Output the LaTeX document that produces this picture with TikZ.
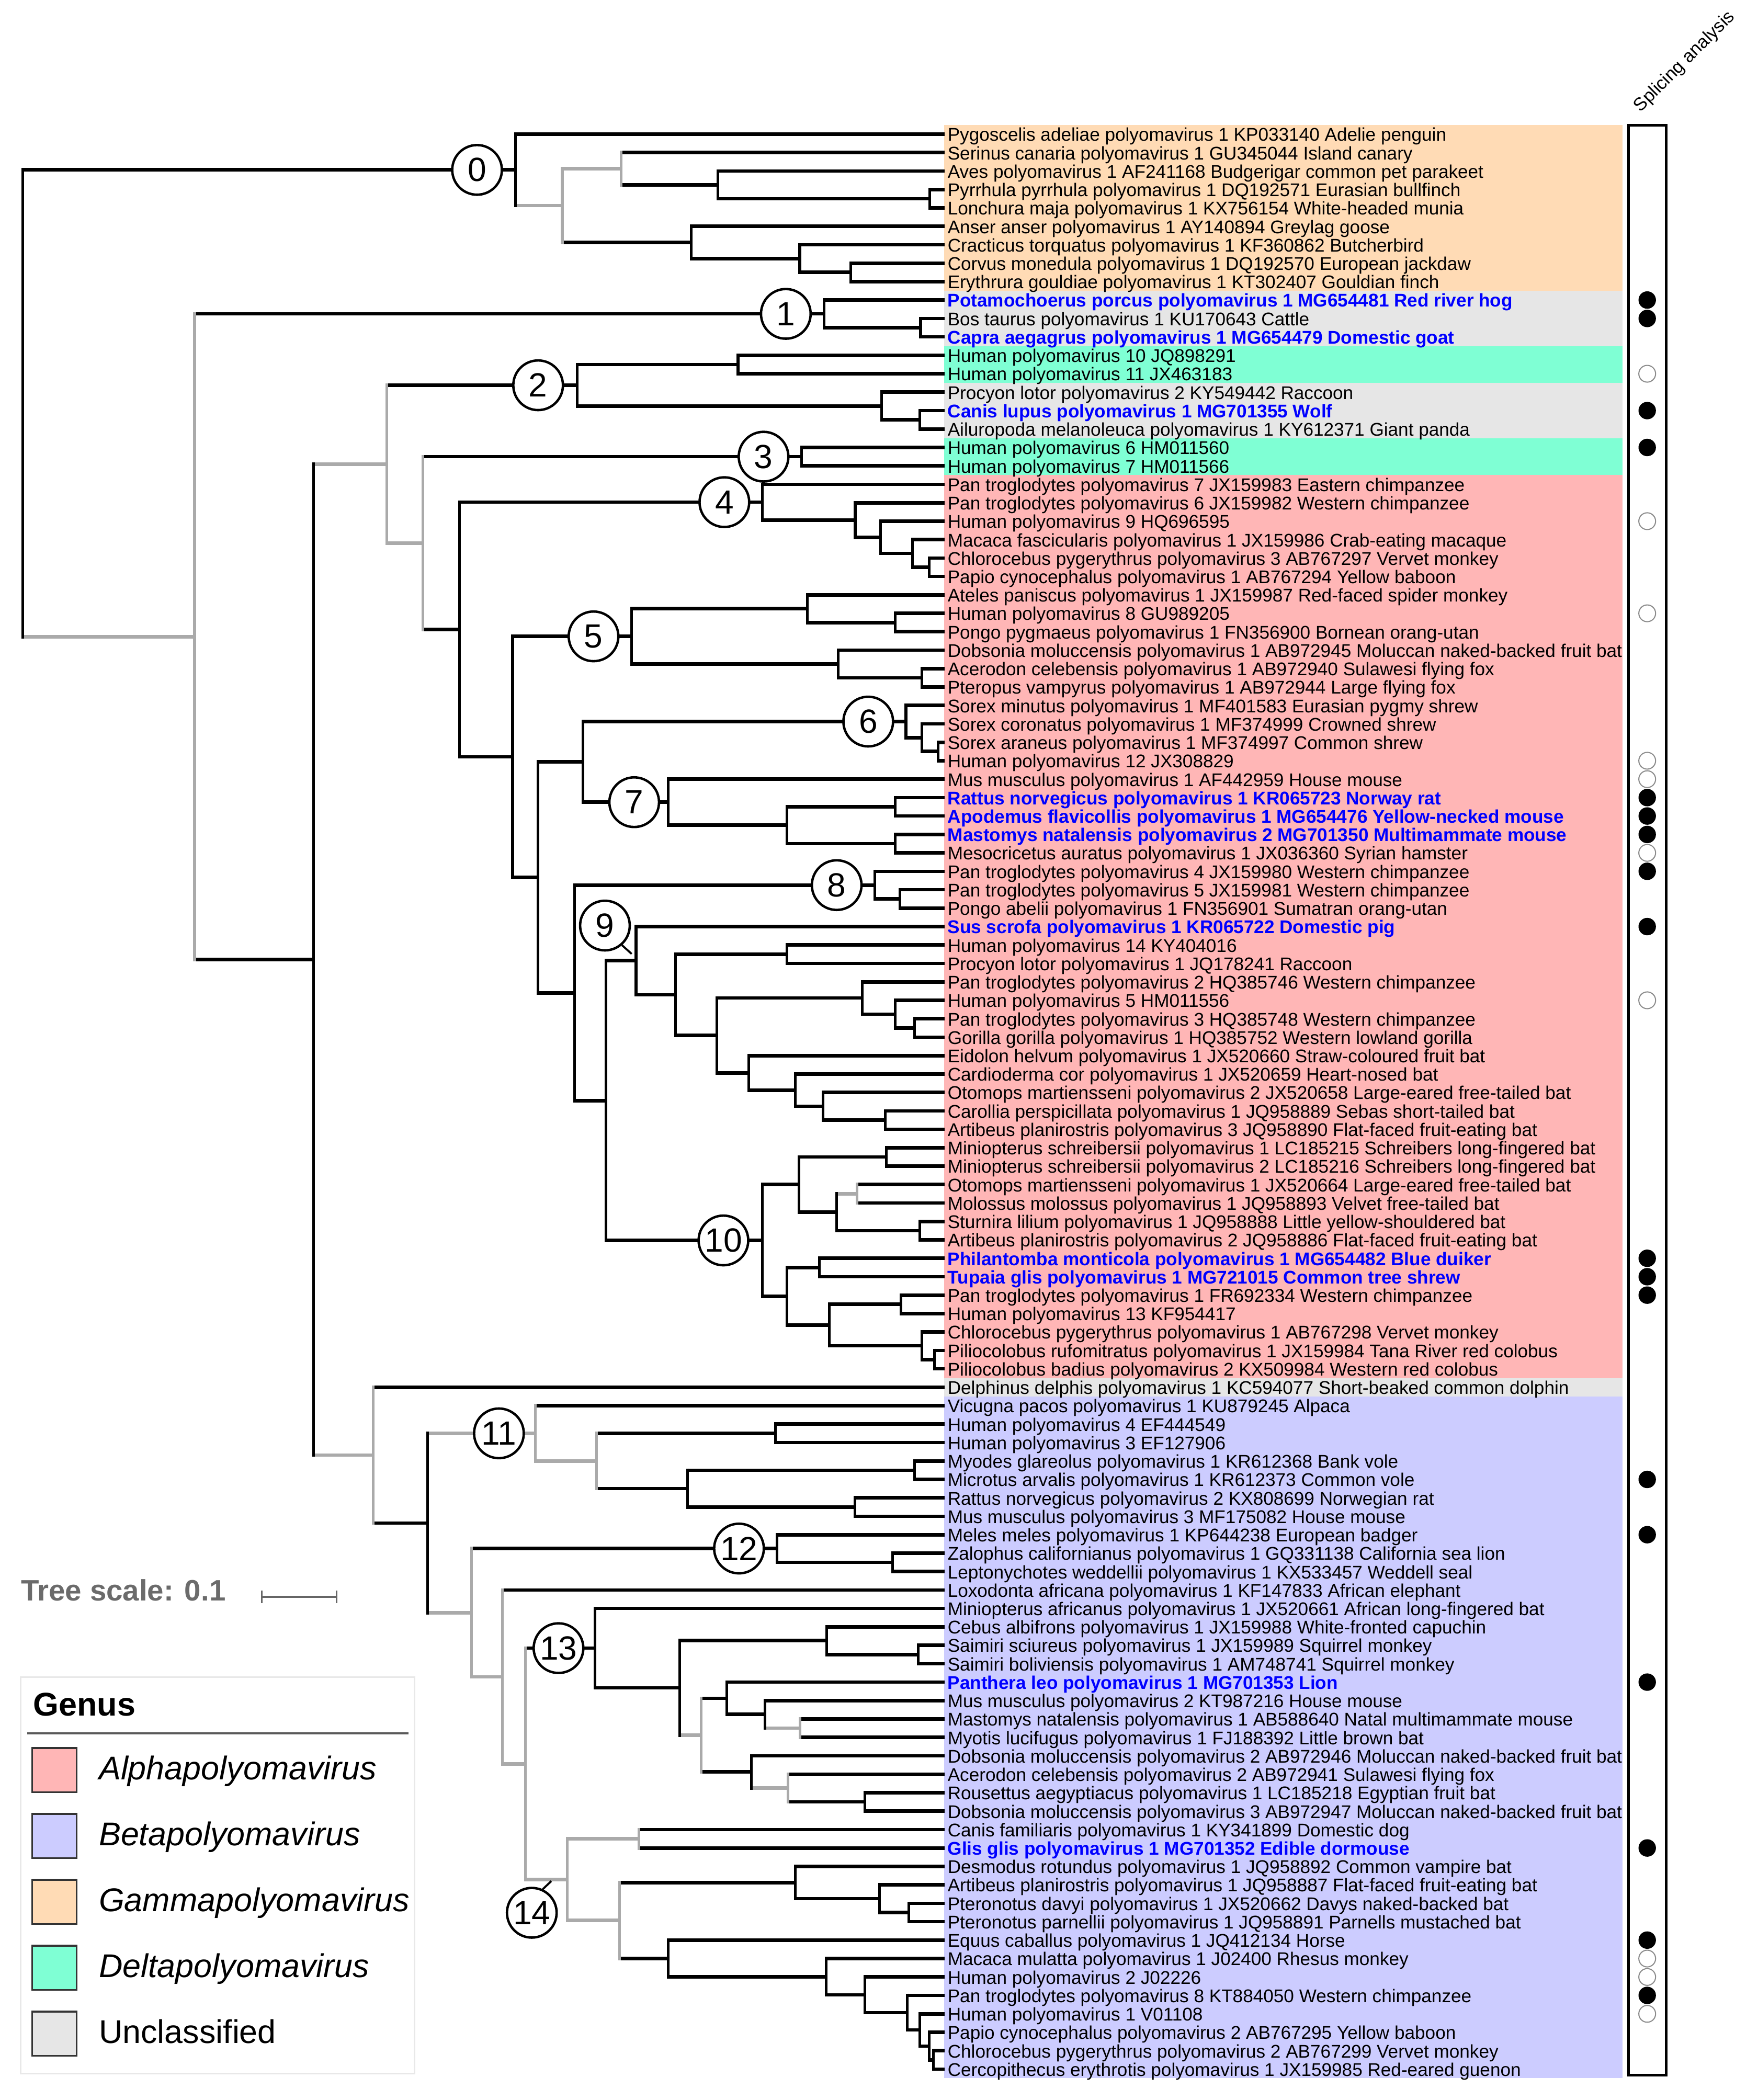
\documentclass[tikz,border=0pt]{standalone}
\usepackage{fontspec}
\setmainfont{Liberation Sans}
\usetikzlibrary{calc}
\definecolor{alphac}{RGB}{255,182,182}
\definecolor{betac}{RGB}{204,204,255}
\definecolor{gammac}{RGB}{255,219,181}
\definecolor{deltac}{RGB}{127,255,212}
\definecolor{unclc}{RGB}{230,230,230}
\definecolor{brgray}{RGB}{170,170,170}
\definecolor{blueL}{RGB}{0,0,255}
\newcommand\tn[4]{\path let \p1=(#3), \p2=(#4) in coordinate (#1) at (#2pt,{0.5*(\y1+\y2)});}
\newcommand\brB[2]{\draw[hbk] (#1 |- #2) -- (#2);}
\newcommand\brG[2]{\draw[hgr] (#1 |- #2) -- (#2);}
\newcommand\vtB[3]{\draw[vbk] (#1 |- #2) -- (#1 |- #3);}
\newcommand\vtG[3]{\draw[vgr] (#1 |- #2) -- (#1 |- #3);}
\newcommand\nBB[3]{\brB{#1}{#2}\brB{#1}{#3}\vtB{#1}{#2}{#3}}
\begin{document}
\begin{tikzpicture}[x=1pt,y=-1pt,
  hbk/.style={line width=2.6pt,black},
  hgr/.style={line width=2.6pt,brgray},
  vbk/.style={line width=2pt,black,shorten <=-1.3pt,shorten >=-1.3pt},
  vgr/.style={line width=2pt,brgray,shorten <=-1.3pt,shorten >=-1.3pt},
  lab/.style={anchor=base west,inner sep=0pt,xshift=2pt,yshift=-5.2pt,font=\fontsize{13.7}{14}\selectfont},
  labb/.style={lab,text=blueL,font=\bfseries\fontsize{13.7}{14}\selectfont},
  circ/.style={circle,draw,line width=1.8pt,fill=white,minimum size=37pt,inner sep=0pt,font=\fontsize{25}{25}\selectfont},
  mkf/.style={circle,fill=black,minimum size=13pt,inner sep=0pt},
  mko/.style={circle,draw=black!45,line width=0.8pt,fill=white,minimum size=12.5pt,inner sep=0pt},
  sq/.style={draw=black!80,line width=1.3pt,minimum size=33pt,inner sep=0pt},
  lgt/.style={anchor=base west,inner sep=0pt,font=\fontsize{24.5}{25}\selectfont}]
\useasboundingbox (0,0) rectangle (1310,1565);
\fill[white] (0,0) rectangle (1310,1565);
% colour bands
\fill[gammac] (703.5,93.13) rectangle (1209,216.73);
\fill[unclc] (703.5,216.73) rectangle (1209,257.93);
\fill[deltac] (703.5,257.93) rectangle (1209,285.4);
\fill[unclc] (703.5,285.4) rectangle (1209,326.6);
\fill[deltac] (703.5,326.6) rectangle (1209,354.06);
\fill[alphac] (703.5,354.06) rectangle (1209,1026.98);
\fill[unclc] (703.5,1026.98) rectangle (1209,1040.71);
\fill[betac] (703.5,1040.71) rectangle (1209,1548.8);
% leaf tips
\foreach \i in {1,...,106} {\coordinate (L\i) at (704,{100+(\i-1)*13.733});}
% internal nodes
\tn{nD}{693}{L4}{L5}
\tn{nC}{535}{L3}{nD}
\tn{nB}{463}{L2}{nC}
\tn{nG}{634}{L8}{L9}
\tn{nF}{596}{L7}{nG}
\tn{nE}{515}{L6}{nF}
\tn{nA}{419}{nB}{nE}
\tn{nN0}{384}{L1}{nA}
\tn{nH2}{686}{L11}{L12}
\tn{nH}{614}{L10}{nH2}
\tn{nI1}{550}{L13}{L14}
\tn{nI3}{685.3}{L16}{L17}
\tn{nI2}{657}{L15}{nI3}
\tn{nI}{430}{nI1}{nI2}
\tn{nJ3}{597.4}{L18}{L19}
\tn{nP}{692.5}{L24}{L25}
\tn{nO}{680}{L23}{nP}
\tn{nN}{656.3}{L22}{nO}
\tn{nM}{637.3}{L21}{nN}
\tn{nL}{568.2}{L20}{nM}
\tn{nT}{667.2}{L27}{L28}
\tn{nS}{601.7}{L26}{nT}
\tn{nV}{687}{L30}{L31}
\tn{nU}{624.7}{L29}{nV}
\tn{nR}{470.8}{nS}{nU}
\tn{n6c}{699}{L34}{L35}
\tn{n6b}{687}{L33}{n6c}
\tn{nY}{675.1}{L32}{n6b}
\tn{nAA1}{667.2}{L37}{L38}
\tn{nAA2}{667.2}{L39}{L40}
\tn{nAA}{586.4}{nAA1}{nAA2}
\tn{nZ}{498}{L36}{nAA}
\tn{nX}{434.4}{nY}{nZ}
\tn{nAC2}{670.7}{L42}{L43}
\tn{nAC}{651.9}{L41}{nAC2}
\tn{nAF1}{586.4}{L45}{L46}
\tn{nAH3}{681.6}{L49}{L50}
\tn{nAH2}{667.2}{L48}{nAH3}
\tn{nAH}{642.6}{L47}{nAH2}
\tn{nAL}{659.8}{L54}{L55}
\tn{nAK}{613.3}{L53}{nAL}
\tn{nAJ}{592.6}{L52}{nAK}
\tn{nAI}{558}{L51}{nAJ}
\tn{nAG}{534.3}{nAH}{nAI}
\tn{nAF}{503.5}{nAF1}{nAG}
\tn{nAE}{474}{L44}{nAF}
\tn{nAN1}{660.6}{L56}{L57}
\tn{nAP}{638.8}{L58}{L59}
\tn{nAO2}{685.3}{L60}{L61}
\tn{nAO}{623.5}{nAP}{nAO2}
\tn{nAN}{595.5}{nAN1}{nAO}
\tn{nAQ1}{610.7}{L62}{L63}
\tn{nAR1}{671.5}{L64}{L65}
\tn{nAS2}{696.2}{L67}{L68}
\tn{nAS}{687}{L66}{nAS2}
\tn{nAR}{618}{nAR1}{nAS}
\tn{nAQ}{586.4}{nAQ1}{nAR}
\tn{nAM}{568.2}{nAN}{nAQ}
\tn{nAD}{451.5}{nAE}{nAM}
\tn{nAB}{428.3}{nAC}{nAD}
\tn{nW}{401}{nX}{nAB}
\tn{nQ}{382}{nR}{nW}
\tn{nK}{342.4}{nL}{nQ}
\tn{nJ}{315}{nJ3}{nK}
\tn{nNA}{288.3}{nI}{nJ}
\tn{nBE1}{578}{L71}{L72}
\tn{nBF1}{681.6}{L73}{L74}
\tn{nBF2}{637.2}{L75}{L76}
\tn{nBF}{512.5}{nBF1}{nBF2}
\tn{nBE}{444.7}{nBE1}{nBF}
\tn{nBD}{398.8}{L70}{nBE}
\tn{nBH2}{665.2}{L78}{L79}
\tn{nBH}{579.1}{L77}{nBH2}
\tn{nBM2}{684.2}{L83}{L84}
\tn{nBM}{616.1}{L82}{nBM2}
\tn{nBQ}{596.3}{L87}{L88}
\tn{nBP}{570}{L86}{nBQ}
\tn{nBO}{541.7}{L85}{nBP}
\tn{nBS2}{644.6}{L91}{L92}
\tn{nBS}{587.1}{L90}{nBS2}
\tn{nBR}{559.9}{L89}{nBS}
\tn{nBN}{522.4}{nBO}{nBR}
\tn{nBL}{506.4}{nBM}{nBN}
\tn{nBK}{443.5}{L81}{nBL}
\tn{nBU}{476.2}{L93}{L94}
\tn{nBX2}{677.3}{L97}{L98}
\tn{nBX}{655.5}{L96}{nBX2}
\tn{nBW}{592.6}{L95}{nBX}
\tn{nCE}{695.5}{L105}{L106}
\tn{nCD}{692.6}{L104}{nCE}
\tn{nCC}{685.3}{L103}{nCD}
\tn{nCB}{676.1}{L102}{nCC}
\tn{nCA}{644.6}{L101}{nCB}
\tn{nBZ}{615.5}{L100}{nCA}
\tn{nBY}{498}{L99}{nBZ}
\tn{nBV}{461.7}{nBW}{nBY}
\tn{nBT}{422.8}{nBU}{nBV}
\tn{nBJ}{391.5}{nBK}{nBT}
\tn{nBI}{374.4}{L80}{nBJ}
\tn{nBG}{351.5}{nBH}{nBI}
\tn{nBC}{318.8}{nBD}{nBG}
\tn{nBB}{278.1}{L69}{nBC}
\tn{nBA}{233.7}{nNA}{nBB}
\tn{nR2}{145}{nH}{nBA}
\tn{nRoot}{16.8}{nN0}{nR2}
% ---- branches: Gammapolyomavirus
\brB{nRoot}{nN0}
\brB{nN0}{L1}
\brG{nN0}{nA}
\vtB{nN0}{L1}{nA}
\brG{nA}{nB}
\brB{nA}{nE}
\vtG{nA}{nB}{nE}
\brB{nB}{L2}
\brB{nB}{nC}
\vtG{nB}{L2}{nC}
\nBB{nC}{L3}{nD}
\nBB{nD}{L4}{L5}
\nBB{nE}{L6}{nF}
\nBB{nF}{L7}{nG}
\nBB{nG}{L8}{L9}
% ---- rest
\brG{nRoot}{nR2}
\vtB{nRoot}{nN0}{nR2}
\brB{nR2}{nH}
\brB{nR2}{nBA}
\vtG{nR2}{nH}{nBA}
\nBB{nH}{L10}{nH2}
\nBB{nH2}{L11}{L12}
\brG{nBA}{nNA}
\brG{nBA}{nBB}
\vtB{nBA}{nNA}{nBB}
\brB{nNA}{nI}
\brG{nNA}{nJ}
\vtG{nNA}{nI}{nJ}
\nBB{nI}{nI1}{nI2}
\nBB{nI1}{L13}{L14}
\nBB{nI2}{L15}{nI3}
\nBB{nI3}{L16}{L17}
\brB{nJ}{nJ3}
\brB{nJ}{nK}
\vtG{nJ}{nJ3}{nK}
\nBB{nJ3}{L18}{L19}
\nBB{nK}{nL}{nQ}
\nBB{nL}{L20}{nM}
\nBB{nM}{L21}{nN}
\nBB{nN}{L22}{nO}
\nBB{nO}{L23}{nP}
\nBB{nP}{L24}{L25}
\nBB{nQ}{nR}{nW}
\nBB{nR}{nS}{nU}
\nBB{nS}{L26}{nT}
\nBB{nT}{L27}{L28}
\nBB{nU}{L29}{nV}
\nBB{nV}{L30}{L31}
\nBB{nW}{nX}{nAB}
\nBB{nX}{nY}{nZ}
\nBB{nY}{L32}{n6b}
\nBB{n6b}{L33}{n6c}
\nBB{n6c}{L34}{L35}
\nBB{nZ}{L36}{nAA}
\nBB{nAA}{nAA1}{nAA2}
\nBB{nAA1}{L37}{L38}
\nBB{nAA2}{L39}{L40}
\nBB{nAB}{nAC}{nAD}
\nBB{nAC}{L41}{nAC2}
\nBB{nAC2}{L42}{L43}
\nBB{nAD}{nAE}{nAM}
\nBB{nAE}{L44}{nAF}
\nBB{nAF}{nAF1}{nAG}
\nBB{nAF1}{L45}{L46}
\nBB{nAG}{nAH}{nAI}
\nBB{nAH}{L47}{nAH2}
\nBB{nAH2}{L48}{nAH3}
\nBB{nAH3}{L49}{L50}
\nBB{nAI}{L51}{nAJ}
\nBB{nAJ}{L52}{nAK}
\nBB{nAK}{L53}{nAL}
\nBB{nAL}{L54}{L55}
\nBB{nAM}{nAN}{nAQ}
\nBB{nAN}{nAN1}{nAO}
\nBB{nAN1}{L56}{L57}
\brG{nAO}{nAP}
\brB{nAO}{nAO2}
\vtB{nAO}{nAP}{nAO2}
\brB{nAP}{L58}
\brB{nAP}{L59}
\vtG{nAP}{L58}{L59}
\nBB{nAO2}{L60}{L61}
\nBB{nAQ}{nAQ1}{nAR}
\nBB{nAQ1}{L62}{L63}
\nBB{nAR}{nAR1}{nAS}
\nBB{nAR1}{L64}{L65}
\nBB{nAS}{L66}{nAS2}
\nBB{nAS2}{L67}{L68}
% ---- Betapolyomavirus part
\brB{nBB}{L69}
\brB{nBB}{nBC}
\vtG{nBB}{L69}{nBC}
\brG{nBC}{nBD}
\brG{nBC}{nBG}
\vtB{nBC}{nBD}{nBG}
\brB{nBD}{L70}
\brG{nBD}{nBE}
\vtG{nBD}{L70}{nBE}
\brB{nBE}{nBE1}
\brB{nBE}{nBF}
\vtG{nBE}{nBE1}{nBF}
\nBB{nBE1}{L71}{L72}
\nBB{nBF}{nBF1}{nBF2}
\nBB{nBF1}{L73}{L74}
\nBB{nBF2}{L75}{L76}
\brB{nBG}{nBH}
\brG{nBG}{nBI}
\vtG{nBG}{nBH}{nBI}
\nBB{nBH}{L77}{nBH2}
\nBB{nBH2}{L78}{L79}
\brB{nBI}{L80}
\brG{nBI}{nBJ}
\vtG{nBI}{L80}{nBJ}
\brB{nBJ}{nBK}
\brG{nBJ}{nBT}
\vtG{nBJ}{nBK}{nBT}
\nBB{nBK}{L81}{nBL}
\brB{nBL}{nBM}
\brG{nBL}{nBN}
\vtB{nBL}{nBM}{nBN}
\nBB{nBM}{L82}{nBM2}
\nBB{nBM2}{L83}{L84}
\brB{nBN}{nBO}
\brB{nBN}{nBR}
\vtG{nBN}{nBO}{nBR}
\nBB{nBO}{L85}{nBP}
\brB{nBP}{L86}
\brG{nBP}{nBQ}
\vtB{nBP}{L86}{nBQ}
\brB{nBQ}{L87}
\brB{nBQ}{L88}
\vtG{nBQ}{L87}{L88}
\brB{nBR}{L89}
\brG{nBR}{nBS}
\vtB{nBR}{L89}{nBS}
\brB{nBS}{L90}
\brB{nBS}{nBS2}
\vtG{nBS}{L90}{nBS2}
\nBB{nBS2}{L91}{L92}
\brG{nBT}{nBU}
\brG{nBT}{nBV}
\vtG{nBT}{nBU}{nBV}
\brB{nBU}{L93}
\brB{nBU}{L94}
\vtG{nBU}{L93}{L94}
\brB{nBV}{nBW}
\brB{nBV}{nBY}
\vtG{nBV}{nBW}{nBY}
\nBB{nBW}{L95}{nBX}
\nBB{nBX}{L96}{nBX2}
\nBB{nBX2}{L97}{L98}
\nBB{nBY}{L99}{nBZ}
\nBB{nBZ}{L100}{nCA}
\nBB{nCA}{L101}{nCB}
\nBB{nCB}{L102}{nCC}
\nBB{nCC}{L103}{nCD}
\nBB{nCD}{L104}{nCE}
\nBB{nCE}{L105}{L106}
% ---- clade numbers
\node[circ] (c0) at ($(nN0)+(-28.5,0)$) {0};
\node[circ] (c1) at ($(nH)+(-28.4,0)$) {1};
\node[circ] (c2) at ($(nI)+(-29,0)$) {2};
\node[circ] (c3) at ($(nJ3)+(-28.4,0)$) {3};
\node[circ] (c4) at ($(nL)+(-28.4,0)$) {4};
\node[circ] (c5) at ($(nR)+(-28.5,0)$) {5};
\node[circ] (c6) at ($(nY)+(-28.1,0)$) {6};
\node[circ] (c7) at ($(nZ)+(-25.4,0)$) {7};
\node[circ] (c8) at ($(nAC)+(-28.4,0)$) {8};
\node[circ] (c9) at ($(nAE)+(-23.2,-26.2)$) {9};
\node[circ] (c10) at ($(nAM)+(-29.1,0)$) {10};
\node[circ] (c11) at ($(nBD)+(-27,0)$) {11};
\node[circ] (c12) at ($(nBH)+(-28.4,0)$) {12};
\node[circ] (c13) at ($(nBK)+(-27.3,0)$) {13};
\node[circ] (c14) at ($(nBT)+(-26.5,24.7)$) {14};
\draw[line width=1.5pt] (c9.-49) -- ++(7.2,6.5);
\draw[line width=1.5pt] (c14.65) -- ++(6.3,-6);
% ---- leaf labels
\node[lab] (t1) at (L1) {Pygoscelis adeliae polyomavirus 1 KP033140 Adelie penguin};
\node[lab] (t2) at (L2) {Serinus canaria polyomavirus 1 GU345044 Island canary};
\node[lab] (t3) at (L3) {Aves polyomavirus 1 AF241168 Budgerigar common pet parakeet};
\node[lab] (t4) at (L4) {Pyrrhula pyrrhula polyomavirus 1 DQ192571 Eurasian bullfinch};
\node[lab] (t5) at (L5) {Lonchura maja polyomavirus 1 KX756154 White-headed munia};
\node[lab] (t6) at (L6) {Anser anser polyomavirus 1 AY140894 Greylag goose};
\node[lab] (t7) at (L7) {Cracticus torquatus polyomavirus 1 KF360862 Butcherbird};
\node[lab] (t8) at (L8) {Corvus monedula polyomavirus 1 DQ192570 European jackdaw};
\node[lab] (t9) at (L9) {Erythrura gouldiae polyomavirus 1 KT302407 Gouldian finch};
\node[labb] (t10) at (L10) {Potamochoerus porcus polyomavirus 1 MG654481 Red river hog};
\node[lab] (t11) at (L11) {Bos taurus polyomavirus 1 KU170643 Cattle};
\node[labb] (t12) at (L12) {Capra aegagrus polyomavirus 1 MG654479 Domestic goat};
\node[lab] (t13) at (L13) {Human polyomavirus 10 JQ898291};
\node[lab] (t14) at (L14) {Human polyomavirus 11 JX463183};
\node[lab] (t15) at (L15) {Procyon lotor polyomavirus 2 KY549442 Raccoon};
\node[labb] (t16) at (L16) {Canis lupus polyomavirus 1 MG701355 Wolf};
\node[lab] (t17) at (L17) {Ailuropoda melanoleuca polyomavirus 1 KY612371 Giant panda};
\node[lab] (t18) at (L18) {Human polyomavirus 6 HM011560};
\node[lab] (t19) at (L19) {Human polyomavirus 7 HM011566};
\node[lab] (t20) at (L20) {Pan troglodytes polyomavirus 7 JX159983 Eastern chimpanzee};
\node[lab] (t21) at (L21) {Pan troglodytes polyomavirus 6 JX159982 Western chimpanzee};
\node[lab] (t22) at (L22) {Human polyomavirus 9 HQ696595};
\node[lab] (t23) at (L23) {Macaca fascicularis polyomavirus 1 JX159986 Crab-eating macaque};
\node[lab] (t24) at (L24) {Chlorocebus pygerythrus polyomavirus 3 AB767297 Vervet monkey};
\node[lab] (t25) at (L25) {Papio cynocephalus polyomavirus 1 AB767294 Yellow baboon};
\node[lab] (t26) at (L26) {Ateles paniscus polyomavirus 1 JX159987 Red-faced spider monkey};
\node[lab] (t27) at (L27) {Human polyomavirus 8 GU989205};
\node[lab] (t28) at (L28) {Pongo pygmaeus polyomavirus 1 FN356900 Bornean orang-utan};
\node[lab] (t29) at (L29) {Dobsonia moluccensis polyomavirus 1 AB972945 Moluccan naked-backed fruit bat};
\node[lab] (t30) at (L30) {Acerodon celebensis polyomavirus 1 AB972940 Sulawesi flying fox};
\node[lab] (t31) at (L31) {Pteropus vampyrus polyomavirus 1 AB972944 Large flying fox};
\node[lab] (t32) at (L32) {Sorex minutus polyomavirus 1 MF401583 Eurasian pygmy shrew};
\node[lab] (t33) at (L33) {Sorex coronatus polyomavirus 1 MF374999 Crowned shrew};
\node[lab] (t34) at (L34) {Sorex araneus polyomavirus 1 MF374997 Common shrew};
\node[lab] (t35) at (L35) {Human polyomavirus 12 JX308829};
\node[lab] (t36) at (L36) {Mus musculus polyomavirus 1 AF442959 House mouse};
\node[labb] (t37) at (L37) {Rattus norvegicus polyomavirus 1 KR065723 Norway rat};
\node[labb] (t38) at (L38) {Apodemus flavicollis polyomavirus 1 MG654476 Yellow-necked mouse};
\node[labb] (t39) at (L39) {Mastomys natalensis polyomavirus 2 MG701350 Multimammate mouse};
\node[lab] (t40) at (L40) {Mesocricetus auratus polyomavirus 1 JX036360 Syrian hamster};
\node[lab] (t41) at (L41) {Pan troglodytes polyomavirus 4 JX159980 Western chimpanzee};
\node[lab] (t42) at (L42) {Pan troglodytes polyomavirus 5 JX159981 Western chimpanzee};
\node[lab] (t43) at (L43) {Pongo abelii polyomavirus 1 FN356901 Sumatran orang-utan};
\node[labb] (t44) at (L44) {Sus scrofa polyomavirus 1 KR065722 Domestic pig};
\node[lab] (t45) at (L45) {Human polyomavirus 14 KY404016};
\node[lab] (t46) at (L46) {Procyon lotor polyomavirus 1 JQ178241 Raccoon};
\node[lab] (t47) at (L47) {Pan troglodytes polyomavirus 2 HQ385746 Western chimpanzee};
\node[lab] (t48) at (L48) {Human polyomavirus 5 HM011556};
\node[lab] (t49) at (L49) {Pan troglodytes polyomavirus 3 HQ385748 Western chimpanzee};
\node[lab] (t50) at (L50) {Gorilla gorilla polyomavirus 1 HQ385752 Western lowland gorilla};
\node[lab] (t51) at (L51) {Eidolon helvum polyomavirus 1 JX520660 Straw-coloured fruit bat};
\node[lab] (t52) at (L52) {Cardioderma cor polyomavirus 1 JX520659 Heart-nosed bat};
\node[lab] (t53) at (L53) {Otomops martiensseni polyomavirus 2 JX520658 Large-eared free-tailed bat};
\node[lab] (t54) at (L54) {Carollia perspicillata polyomavirus 1 JQ958889 Sebas short-tailed bat};
\node[lab] (t55) at (L55) {Artibeus planirostris polyomavirus 3 JQ958890 Flat-faced fruit-eating bat};
\node[lab] (t56) at (L56) {Miniopterus schreibersii polyomavirus 1 LC185215 Schreibers long-fingered bat};
\node[lab] (t57) at (L57) {Miniopterus schreibersii polyomavirus 2 LC185216 Schreibers long-fingered bat};
\node[lab] (t58) at (L58) {Otomops martiensseni polyomavirus 1 JX520664 Large-eared free-tailed bat};
\node[lab] (t59) at (L59) {Molossus molossus polyomavirus 1 JQ958893 Velvet free-tailed bat};
\node[lab] (t60) at (L60) {Sturnira lilium polyomavirus 1 JQ958888 Little yellow-shouldered bat};
\node[lab] (t61) at (L61) {Artibeus planirostris polyomavirus 2 JQ958886 Flat-faced fruit-eating bat};
\node[labb] (t62) at (L62) {Philantomba monticola polyomavirus 1 MG654482 Blue duiker};
\node[labb] (t63) at (L63) {Tupaia glis polyomavirus 1 MG721015 Common tree shrew};
\node[lab] (t64) at (L64) {Pan troglodytes polyomavirus 1 FR692334 Western chimpanzee};
\node[lab] (t65) at (L65) {Human polyomavirus 13 KF954417};
\node[lab] (t66) at (L66) {Chlorocebus pygerythrus polyomavirus 1 AB767298 Vervet monkey};
\node[lab] (t67) at (L67) {Piliocolobus rufomitratus polyomavirus 1 JX159984 Tana River red colobus};
\node[lab] (t68) at (L68) {Piliocolobus badius polyomavirus 2 KX509984 Western red colobus};
\node[lab] (t69) at (L69) {Delphinus delphis polyomavirus 1 KC594077 Short-beaked common dolphin};
\node[lab] (t70) at (L70) {Vicugna pacos polyomavirus 1 KU879245 Alpaca};
\node[lab] (t71) at (L71) {Human polyomavirus 4 EF444549};
\node[lab] (t72) at (L72) {Human polyomavirus 3 EF127906};
\node[lab] (t73) at (L73) {Myodes glareolus polyomavirus 1 KR612368 Bank vole};
\node[lab] (t74) at (L74) {Microtus arvalis polyomavirus 1 KR612373 Common vole};
\node[lab] (t75) at (L75) {Rattus norvegicus polyomavirus 2 KX808699 Norwegian rat};
\node[lab] (t76) at (L76) {Mus musculus polyomavirus 3 MF175082 House mouse};
\node[lab] (t77) at (L77) {Meles meles polyomavirus 1 KP644238 European badger};
\node[lab] (t78) at (L78) {Zalophus californianus polyomavirus 1 GQ331138 California sea lion};
\node[lab] (t79) at (L79) {Leptonychotes weddellii polyomavirus 1 KX533457 Weddell seal};
\node[lab] (t80) at (L80) {Loxodonta africana polyomavirus 1 KF147833 African elephant};
\node[lab] (t81) at (L81) {Miniopterus africanus polyomavirus 1 JX520661 African long-fingered bat};
\node[lab] (t82) at (L82) {Cebus albifrons polyomavirus 1 JX159988 White-fronted capuchin};
\node[lab] (t83) at (L83) {Saimiri sciureus polyomavirus 1 JX159989 Squirrel monkey};
\node[lab] (t84) at (L84) {Saimiri boliviensis polyomavirus 1 AM748741 Squirrel monkey};
\node[labb] (t85) at (L85) {Panthera leo polyomavirus 1 MG701353 Lion};
\node[lab] (t86) at (L86) {Mus musculus polyomavirus 2 KT987216 House mouse};
\node[lab] (t87) at (L87) {Mastomys natalensis polyomavirus 1 AB588640 Natal multimammate mouse};
\node[lab] (t88) at (L88) {Myotis lucifugus polyomavirus 1 FJ188392 Little brown bat};
\node[lab] (t89) at (L89) {Dobsonia moluccensis polyomavirus 2 AB972946 Moluccan naked-backed fruit bat};
\node[lab] (t90) at (L90) {Acerodon celebensis polyomavirus 2 AB972941 Sulawesi flying fox};
\node[lab] (t91) at (L91) {Rousettus aegyptiacus polyomavirus 1 LC185218 Egyptian fruit bat};
\node[lab] (t92) at (L92) {Dobsonia moluccensis polyomavirus 3 AB972947 Moluccan naked-backed fruit bat};
\node[lab] (t93) at (L93) {Canis familiaris polyomavirus 1 KY341899 Domestic dog};
\node[labb] (t94) at (L94) {Glis glis polyomavirus 1 MG701352 Edible dormouse};
\node[lab] (t95) at (L95) {Desmodus rotundus polyomavirus 1 JQ958892 Common vampire bat};
\node[lab] (t96) at (L96) {Artibeus planirostris polyomavirus 1 JQ958887 Flat-faced fruit-eating bat};
\node[lab] (t97) at (L97) {Pteronotus davyi polyomavirus 1 JX520662 Davys naked-backed bat};
\node[lab] (t98) at (L98) {Pteronotus parnellii polyomavirus 1 JQ958891 Parnells mustached bat};
\node[lab] (t99) at (L99) {Equus caballus polyomavirus 1 JQ412134 Horse};
\node[lab] (t100) at (L100) {Macaca mulatta polyomavirus 1 J02400 Rhesus monkey};
\node[lab] (t101) at (L101) {Human polyomavirus 2 J02226};
\node[lab] (t102) at (L102) {Pan troglodytes polyomavirus 8 KT884050 Western chimpanzee};
\node[lab] (t103) at (L103) {Human polyomavirus 1 V01108};
\node[lab] (t104) at (L104) {Papio cynocephalus polyomavirus 2 AB767295 Yellow baboon};
\node[lab] (t105) at (L105) {Chlorocebus pygerythrus polyomavirus 2 AB767299 Vervet monkey};
\node[lab] (t106) at (L106) {Cercopithecus erythrotis polyomavirus 1 JX159985 Red-eared guenon};
% ---- splicing analysis column
\draw[line width=2pt] (1213.5,93.4) rectangle (1241.5,1546.5);
\node[rotate=45,anchor=base west,inner sep=0pt,font=\fontsize{13.5}{14}\selectfont] (spl) at (1222.5,84) {Splicing analysis};
\coordinate (spx) at (1227.5,0);
\foreach \i in {10,11,16,18,37,38,39,41,44,62,63,64,74,77,85,94,99,102} {\node[mkf] (m\i) at (L\i -| spx) {};}
\foreach \i in {14,22,27,35,36,40,48,100,101,103} {\node[mko] (m\i) at (L\i -| spx) {};}
% ---- tree scale
\node[anchor=base west,inner sep=0pt,text=black!58,font=\bfseries\fontsize{22}{22}\selectfont] (ts) at (15.5,1193) {Tree scale: 0.1};
\coordinate (sb1) at (195,1190);
\coordinate (sb2) at (251,1190);
\draw[black!60,line width=1.2pt] (sb1) -- (sb2);
\draw[black!60,line width=1.2pt] ([yshift=4.5pt]sb1) -- ([yshift=-4.5pt]sb1);
\draw[black!60,line width=1.2pt] ([yshift=4.5pt]sb2) -- ([yshift=-4.5pt]sb2);
% ---- legend
\draw[black!9,line width=1.2pt] (15.3,1250) rectangle (309,1545.3);
\node[lgt,font=\bfseries\fontsize{24.5}{25}\selectfont] (lgh) at (24.5,1278.5) {Genus};
\draw[black!65,line width=1.5pt] (20.4,1291.6) -- (304.6,1291.6);
\node[sq,fill=alphac] (sa) at (40.5,1319.2) {};
\node[sq,fill=betac] (sb) at (40.5,1368.3) {};
\node[sq,fill=gammac] (sg) at (40.5,1417.4) {};
\node[sq,fill=deltac] (sd) at (40.5,1466.5) {};
\node[sq,fill=unclc] (su) at (40.5,1515.6) {};
\node[lgt] (la) at (73.5,1326.3) {\itshape Alphapolyomavirus};
\node[lgt] (lb) at (73.5,1375.4) {\itshape Betapolyomavirus};
\node[lgt] (lg) at (73.5,1424.5) {\itshape Gammapolyomavirus};
\node[lgt] (ld) at (73.5,1473.6) {\itshape Deltapolyomavirus};
\node[lgt] (lu) at (73.5,1522.7) {Unclassified};
\end{tikzpicture}
\end{document}
